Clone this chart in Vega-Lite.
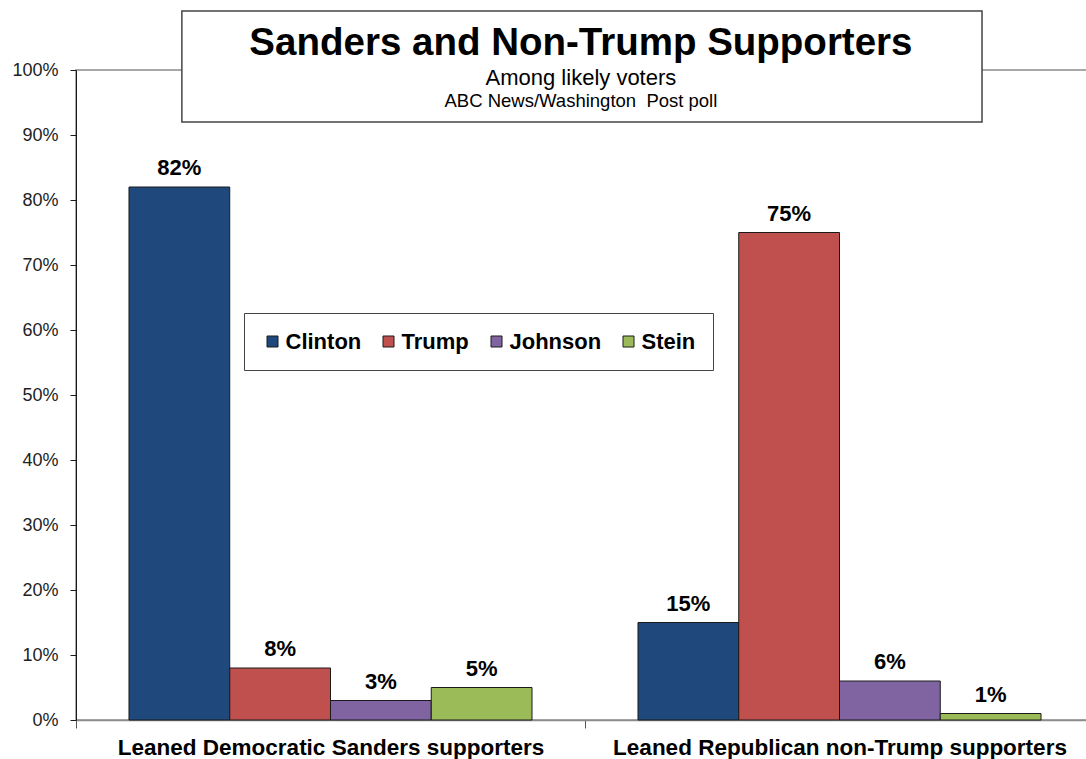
{
  "$schema": "https://vega.github.io/schema/vega-lite/v6.json",
  "width": 1018,
  "height": 650,
  "autosize": {"type": "none"},
  "padding": {"left": 76, "top": 70, "right": 0, "bottom": 39},
  "background": "white",
  "config": {
    "font": "Liberation Sans",
    "view": {"stroke": "#8c8c8c", "strokeWidth": 1.5}
  },
  "layer": [
    {
      "data": {
        "values": [
          {"group": "Leaned Democratic Sanders supporters", "candidate": "Clinton", "value": 0.82},
          {"group": "Leaned Democratic Sanders supporters", "candidate": "Trump", "value": 0.08},
          {"group": "Leaned Democratic Sanders supporters", "candidate": "Johnson", "value": 0.03},
          {"group": "Leaned Democratic Sanders supporters", "candidate": "Stein", "value": 0.05},
          {"group": "Leaned Republican non-Trump supporters", "candidate": "Clinton", "value": 0.15},
          {"group": "Leaned Republican non-Trump supporters", "candidate": "Trump", "value": 0.75},
          {"group": "Leaned Republican non-Trump supporters", "candidate": "Johnson", "value": 0.06},
          {"group": "Leaned Republican non-Trump supporters", "candidate": "Stein", "value": 0.01}
        ]
      },
      "layer": [
        {
          "mark": {"type": "bar", "stroke": "#1a1a1a", "strokeWidth": 1},
          "encoding": {
            "color": {
              "field": "candidate",
              "type": "nominal",
              "sort": ["Clinton", "Trump", "Johnson", "Stein"],
              "scale": {"domain": ["Clinton", "Trump", "Johnson", "Stein"], "range": ["#1F497D", "#C0504D", "#8064A2", "#9BBB59"]},
              "legend": {
                "title": null,
                "orient": "none",
                "legendX": 168,
                "legendY": 243,
                "direction": "horizontal",
                "fillColor": "white",
                "strokeColor": "#444444",
                "padding": 17.5,
                "symbolType": "square",
                "symbolSize": 121,
                "symbolStrokeColor": "#1a1a1a",
                "symbolStrokeWidth": 1,
                "labelFont": "Liberation Sans",
                "labelFontSize": 22,
                "labelFontWeight": "bold",
                "labelColor": "black",
                "labelOffset": 2,
                "labelLimit": 0,
                "columnPadding": 16
              }
            }
          }
        },
        {
          "mark": {"type": "text", "baseline": "alphabetic", "dy": -12, "fontSize": 22, "fontWeight": "bold", "color": "black"},
          "encoding": {
            "text": {"field": "value", "type": "quantitative", "format": ".0%"}
          }
        }
      ],
      "encoding": {
        "x": {
          "field": "group",
          "type": "nominal",
          "scale": {"paddingInner": 0, "paddingOuter": 0},
          "axis": {
            "title": null,
            "labelAngle": 0,
            "labelFontSize": 22.5,
            "labelFontWeight": "bold",
            "labelColor": "black",
            "labelLimit": 0,
            "domainColor": "#8c8c8c",
            "domainWidth": 1.5,
            "tickBand": "extent",
            "tickSize": 8,
            "tickColor": "#555555",
            "labelPadding": 8
          }
        },
        "xOffset": {
          "field": "candidate",
          "type": "nominal",
          "sort": ["Clinton", "Trump", "Johnson", "Stein"],
          "scale": {"paddingInner": 0, "paddingOuter": 0.526}
        },
        "y": {
          "field": "value",
          "type": "quantitative",
          "scale": {"domain": [0, 1]},
          "axis": {
            "title": null,
            "format": ".0%",
            "values": [0, 0.1, 0.2, 0.3, 0.4, 0.5, 0.6, 0.7, 0.8, 0.9, 1],
            "grid": false,
            "labelFontSize": 18,
            "labelColor": "#222222",
            "domainColor": "#1a1a1a",
            "tickColor": "#1a1a1a",
            "tickSize": 6,
            "labelPadding": 12
          }
        }
      }
    },
    {
      "data": {"values": [{}]},
      "layer": [
        {
          "mark": {"type": "rect", "fill": "white", "stroke": "#444444", "strokeWidth": 1.5},
          "encoding": {
            "x": {"datum": 0.104, "type": "quantitative", "scale": {"domain": [0, 1]}, "axis": null},
            "x2": {"datum": 0.89},
            "y": {"datum": 0.92, "type": "quantitative", "scale": {"domain": [0, 1]}, "axis": null},
            "y2": {"datum": 1.0908}
          }
        },
        {
          "mark": {"type": "text", "text": "Sanders and Non-Trump Supporters", "fontSize": 38.5, "fontWeight": "bold", "baseline": "alphabetic", "color": "black"},
          "encoding": {
            "x": {"datum": 0.496, "type": "quantitative"},
            "y": {"datum": 1.023, "type": "quantitative"}
          }
        },
        {
          "mark": {"type": "text", "text": "Among likely voters", "fontSize": 22, "fontWeight": "normal", "baseline": "alphabetic", "color": "black"},
          "encoding": {
            "x": {"datum": 0.496, "type": "quantitative"},
            "y": {"datum": 0.977, "type": "quantitative"}
          }
        },
        {
          "mark": {"type": "text", "text": "ABC News/Washington\u00a0 Post poll", "fontSize": 18.5, "fontWeight": "normal", "baseline": "alphabetic", "color": "black"},
          "encoding": {
            "x": {"datum": 0.496, "type": "quantitative"},
            "y": {"datum": 0.943, "type": "quantitative"}
          }
        }
      ]
    }
  ],
  "resolve": {"scale": {"x": "independent", "y": "independent"}, "axis": {"x": "independent", "y": "independent"}}
}
